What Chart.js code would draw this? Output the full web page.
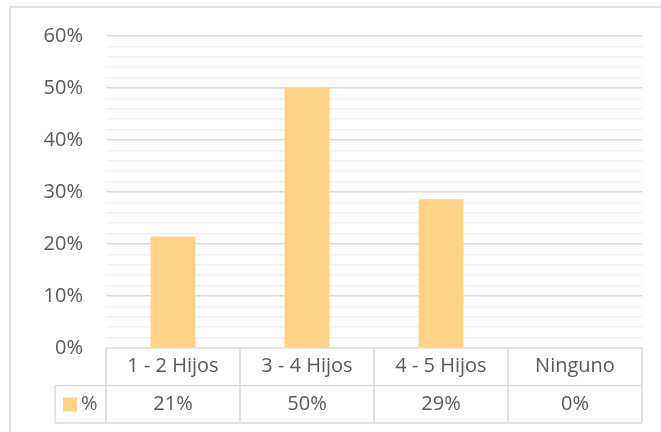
<!DOCTYPE html>
<html>
<head>
<meta charset="utf-8">
<script src="https://cdn.jsdelivr.net/npm/chart.js@4"></script>
<style>
  html, body { margin: 0; padding: 0; background: #fff; }
  #wrap { width: 661px; height: 432px; }
</style>
</head>
<body>
<div id="wrap"><canvas id="myChart" width="661" height="432"></canvas></div>
<script>
// data
let categories = ['1 - 2 Hijos', '3 - 4 Hijos', '4 - 5 Hijos', 'Ninguno'];
let seriesName = '%';
let percentValues = [21.4, 50, 28.6, 0];
let yTicks = [0, 10, 20, 30, 40, 50, 60];

let textColor = '#595959';
let lineColor = '#d9d9d9';
let barColor = '#ffd285';
let fontFamily = '"Open Sans", "Noto Sans", sans-serif';

// outer frame of the chart object
let framePlugin = {
  id: 'frame',
  beforeDraw: function(chart) {
    let ctx = chart.ctx;
    ctx.save();
    ctx.strokeStyle = lineColor;
    ctx.lineWidth = 1.5;
    ctx.strokeRect(10, 7, 700, 460);
    ctx.restore();
  }
};

// excel style data table under the plot
let dataTablePlugin = {
  id: 'dataTable',
  afterDraw: function(chart) {
    let ctx = chart.ctx;
    let area = chart.chartArea;
    let xs = chart.scales.x;
    let n = categories.length;
    let colW = (area.right - area.left) / n;
    let rowH = 37.5;
    let top = area.bottom;
    let mid = top + rowH;
    let bottom = mid + rowH;
    let keyLeft = 55;

    ctx.save();
    ctx.strokeStyle = lineColor;
    ctx.lineWidth = 1.5;
    ctx.beginPath();
    // horizontal lines
    ctx.moveTo(area.left, top); ctx.lineTo(area.right, top);
    ctx.moveTo(keyLeft, mid); ctx.lineTo(area.right, mid);
    ctx.moveTo(keyLeft, bottom); ctx.lineTo(area.right, bottom);
    // vertical lines
    ctx.moveTo(keyLeft, mid); ctx.lineTo(keyLeft, bottom);
    for (let i = 0; i <= n; i++) {
      let x = area.left + i * colW;
      ctx.moveTo(x, top); ctx.lineTo(x, bottom);
    }
    ctx.stroke();

    ctx.fillStyle = textColor;
    ctx.font = '20px ' + fontFamily;
    ctx.textAlign = 'center';
    ctx.textBaseline = 'middle';
    for (let i = 0; i < n; i++) {
      let cx = xs.getPixelForValue(i);
      ctx.fillText(categories[i], cx, top + rowH / 2);
      ctx.fillText(Math.round(percentValues[i]) + '%', cx, mid + rowH / 2);
    }

    // legend key + series name
    ctx.fillStyle = barColor;
    ctx.fillRect(63, mid + 12, 14, 14);
    ctx.fillStyle = textColor;
    ctx.textAlign = 'left';
    ctx.fillText(seriesName, 81, mid + rowH / 2);
    ctx.restore();
  }
};

let ctx = document.getElementById('myChart').getContext('2d');
window.chart = new Chart(ctx, {
  type: 'bar',
  data: {
    labels: categories,
    datasets: [{
      label: seriesName,
      data: percentValues,
      backgroundColor: barColor,
      borderWidth: 0,
      barPercentage: 0.335,
      categoryPercentage: 1
    }]
  },
  options: {
    responsive: false,
    animation: false,
    layout: { padding: { top: 36, right: 19, bottom: 84, left: 0 } },
    plugins: {
      legend: { display: false },
      tooltip: { enabled: false }
    },
    scales: {
      x: { display: false },
      y: {
        min: yTicks[0],
        max: yTicks[yTicks.length - 1],
        afterFit: function(scale) { scale.width = 106; },
        border: { display: false },
        grid: {
          drawTicks: false,
          lineWidth: 1.5,
          color: function(c) {
            if (c.tick.value === 0) return 'rgba(0,0,0,0)';
            return yTicks.includes(c.tick.value) ? lineColor : '#f2f2f2';
          }
        },
        ticks: {
          stepSize: 2,
          autoSkip: false,
          padding: 23,
          color: textColor,
          font: { family: fontFamily, size: 20 },
          callback: function(v) { return yTicks.includes(v) ? v + '%' : ''; }
        }
      }
    }
  },
  plugins: [framePlugin, dataTablePlugin]
});
</script>
</body>
</html>
